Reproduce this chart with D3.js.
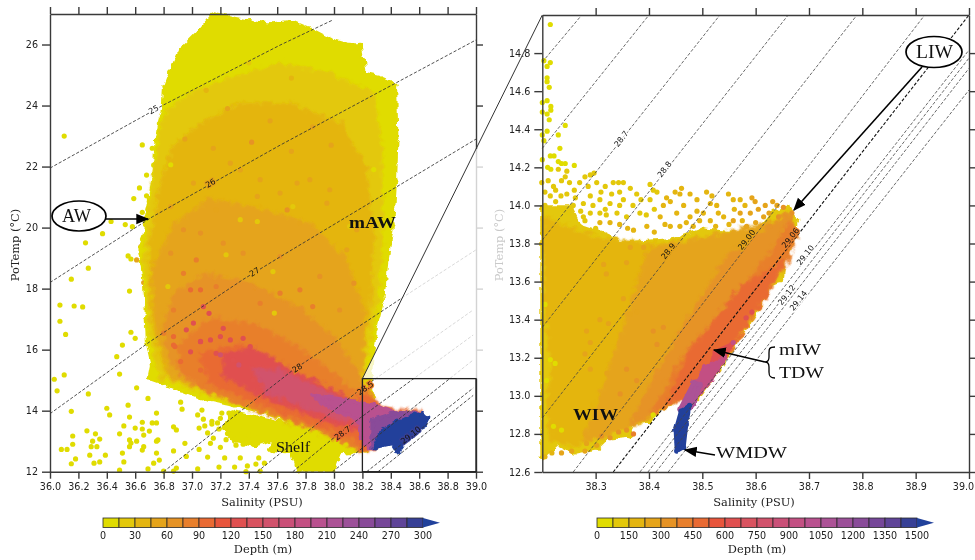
<!DOCTYPE html>
<html>
<head>
<meta charset="utf-8">
<script src="https://cdn.jsdelivr.net/npm/d3@7"></script>
<style>
  html, body { margin: 0; background: #fff; }
  svg { display: block; filter: blur(0.35px); }
  .tick text { font: 9.6px "DejaVu Sans", sans-serif; fill: #222; }
  .title { font: 11.4px "DejaVu Serif", serif; fill: #222; }
  .note { font-family: "Liberation Serif", serif; fill: #111; }
</style>
</head>
<body>
<svg id="chart" width="975" height="560"></svg>
<script>
/* ── Data ──────────────────────────────────────────────────────────── */

const depthColors = ['#e0dc00', '#e3c80a', '#e4b510', '#e5a41a', '#e69325', '#e87f2c', '#e96a33',
  '#e8553c', '#e05050', '#d95360', '#d1526c', '#ca5078', '#c35083', '#b9518f', '#ac5296',
  '#9c5099', '#894b99', '#764799', '#5f4498', '#374096'];
const overColor = '#21419b';

const depthTicksLeft = [0, 30, 60, 90, 120, 150, 180, 210, 240, 270, 300];
const depthTicksRight = [0, 150, 300, 450, 600, 750, 900, 1050, 1200, 1350, 1500];
const salTicksLeft = [36, 36.2, 36.4, 36.6, 36.8, 37, 37.2, 37.4, 37.6, 37.8, 38, 38.2, 38.4, 38.6, 38.8, 39];
const tempTicksLeft = [12, 14, 16, 18, 20, 22, 24, 26];
const salTicksRight = [38.3, 38.4, 38.5, 38.6, 38.7, 38.8, 38.9, 39];
const tempTicksRight = [12.6, 12.8, 13, 13.2, 13.4, 13.6, 13.8, 14, 14.2, 14.4, 14.6, 14.8];

// density contours, [salinity, temperature] along each line
const isoLeft = [
  [[36, 21.95], [36.8, 24.02], [37.62, 25.98], [37.99, 26.8]],
  [[36, 18.2], [36.72, 20.35], [37.62, 22.7], [39, 26.15]],
  [[36, 13.9], [36.7, 16.25], [37.36, 18.3], [37.62, 19.04], [39, 22.9]],
  [[36.8, 12], [37.62, 15], [37.71, 15.33], [38.49, 17.73], [39, 19.27]],
  [[37.46, 12], [38.18, 14.68], [38.98, 17.3]],
  [[37.71, 12], [38.04, 13.27], [38.98, 16.48]],
  [[37.99, 12], [38.98, 15.66]],
  [[38.23, 12], [38.98, 14.74]],
  [[38.31, 12], [38.98, 14.5]]
];
const isoRight = [
  [[38.2, 14.753], [38.274, 15]],
  [[38.2, 14.3], [38.4, 15]],
  [[38.2, 13.818], [38.533, 15]],
  [[38.2, 13.36], [38.661, 15]],
  [[38.2, 12.884], [38.79, 15]],
  [[38.258, 12.6], [38.917, 15]],
  [[38.383, 12.6], [39, 14.816]],
  [[38.398, 12.6], [39, 14.774]],
  [[38.413, 12.6], [39, 14.72]],
  [[38.436, 12.6], [39, 14.606]]
];
const isoRightBold = [[[38.333, 12.6], [39, 15]]];

// label text, salinity, temperature, depth of the water behind it (null = blank paper)
const isoLabelsLeft = [
  ['25', 36.73, 23.87, null], ['26', 37.13, 21.46, 50], ['27', 37.44, 18.55, 50],
  ['28', 37.74, 15.4, 85], ['28.5', 38.22, 14.74, 85], ['28.7', 38.06, 13.27, 100],
  ['29.10', 38.54, 13.2, 290]
];
const isoLabelsRight = [
  ['28.7', 38.348, 14.35, null], ['28.8', 38.429, 14.19, null], ['28.9', 38.436, 13.76, 260],
  ['29.00', 38.583, 13.82, 260], ['29.06', 38.665, 13.83, 420], ['29.10', 38.693, 13.74, null],
  ['29.12', 38.658, 13.53, null], ['29.14', 38.68, 13.5, null]
];

// cloud outlines, shallow water first, [depth, polygon of [salinity, temperature]]
const shelfOutline = [[37.28, 13.96], [37.48, 13.76], [37.69, 13.53], [37.97, 13.1], [38.11, 12.65], [38.04, 12.65],
  [37.99, 12.05], [37.75, 12.03], [37.71, 12.65], [37.56, 12.71], [37.58, 13.1], [37.44, 12.88], [37.3, 13.04], [37.23, 13.43]];
const cloudLeft = [
  [7, [[37.15, 26.97], [37.06, 26.48], [36.92, 25.82], [36.85, 25.1], [36.81, 24.6], [36.8, 23.95], [36.77, 23.43], [36.75, 22.87],
    [36.74, 22], [36.73, 21.55], [36.7, 20.9], [36.68, 20.35], [36.67, 19.8], [36.63, 19.35], [36.65, 18.85], [36.68, 17.63],
    [36.68, 17.08], [36.69, 16.2], [36.72, 15.55], [36.7, 15.07], [36.8, 14.9], [36.92, 14.68], [37.06, 14.42], [37.29, 14.19],
    [37.48, 14], [37.76, 13.53], [37.97, 13.03], [38.09, 12.65], [38.22, 12.71], [38.29, 13.85], [38.27, 14.45], [38.25, 15],
    [38.27, 15.99], [38.29, 16.65], [38.34, 17.63], [38.37, 18.94], [38.41, 20.09], [38.43, 21.56], [38.44, 22.88], [38.43, 24.68],
    [38.32, 24.9], [38.22, 25], [38.2, 25.5], [38.18, 25.97], [38.08, 26], [37.97, 26.15], [37.83, 26.48], [37.69, 26.75],
    [37.55, 26.65], [37.41, 26.75], [37.27, 26.87]]],
  [20, [[36.74, 21.73], [36.81, 23.7], [36.99, 24.35], [37.27, 24.85], [37.62, 25.33], [37.97, 25], [38.27, 24.35], [38.33, 22.55],
    [38.33, 19.6], [38.3, 17.63], [38.24, 16.32], [38.22, 15.07], [38.15, 13.2], [37.76, 13.7], [37.27, 14.3], [36.78, 15.1],
    [36.71, 16.5], [36.67, 18.94], [36.7, 20.42]]],
  [35, [[36.78, 21.24], [36.86, 22.55], [37.06, 23.37], [37.34, 24.02], [37.69, 24.02], [38.04, 23.37], [38.22, 21.9], [38.27, 19.6],
    [38.25, 17.63], [38.2, 15.99], [38.15, 13.6], [37.76, 13.75], [37.27, 14.4], [36.82, 15.2], [36.73, 16.97], [36.71, 19.27]]],
  [50, [[36.73, 18.61], [36.88, 20.09], [37.13, 20.9], [37.48, 20.57], [37.83, 20.09], [38.08, 18.94], [38.2, 17.3], [38.2, 15.66],
    [38.15, 13.8], [37.76, 13.8], [37.27, 14.4], [36.85, 15.2], [36.76, 16.65]]],
  [65, [[36.81, 16.81], [36.88, 17.79], [37.09, 18.45], [37.41, 18.12], [37.76, 17.3], [38, 16.32], [38.17, 15.17], [38.18, 14.19],
    [37.97, 13.53], [37.76, 13.76], [37.34, 14.35], [36.99, 15], [36.85, 15.6]]],
  [85, [[36.92, 16.15], [37.13, 16.97], [37.44, 16.81], [37.76, 15.99], [38.04, 15], [38.2, 14.35], [38.22, 13.37], [38.15, 12.81],
    [37.9, 13.37], [37.48, 14.02], [37.09, 14.74], [36.92, 15.33]]],
  [100, [[37.06, 15.83], [37.34, 16.15], [37.62, 15.5], [37.97, 14.58], [38.22, 13.96], [38.2, 13.04], [37.9, 13.53], [37.48, 14.25], [37.13, 14.94]]],
  [100, [[38.18, 14.51], [38.25, 14.51], [38.32, 14.09], [38.46, 13.96], [38.6, 13.96], [38.43, 13.53], [38.29, 12.81], [38.18, 12.71]]],
  [125, [[37.23, 15.83], [37.44, 15.99], [37.69, 15.33], [38.04, 14.51], [38.24, 13.96], [38.22, 13.3], [37.9, 13.76], [37.48, 14.51], [37.23, 15.17]]],
  [160, [[37.44, 15.33], [37.62, 15.27], [37.9, 14.68], [38.25, 13.96], [38.27, 13.53], [38.2, 13.53], [37.9, 13.96], [37.55, 14.61]]],
  [205, [[37.85, 14.51], [38.08, 14.35], [38.27, 14.18], [38.43, 13.93], [38.29, 13.17], [38.24, 12.81], [38.2, 13.04], [38.17, 13.7], [37.97, 14.09]]],
  [240, [[38.27, 13.7], [38.43, 13.93], [38.62, 13.9], [38.5, 13.5], [38.36, 13.04], [38.27, 12.81]]],
  [310, [[38.33, 13.3], [38.46, 13.66], [38.62, 13.9], [38.66, 13.77], [38.62, 13.47], [38.51, 13.04], [38.45, 12.65], [38.41, 12.94], [38.29, 12.81]]]
];
const cloudRight = [
  [100, [[38.2, 13.99], [38.252, 13.99], [38.27, 13.89], [38.308, 13.855], [38.35, 13.8], [38.452, 13.82], [38.5, 13.87], [38.552, 13.855],
    [38.602, 13.855], [38.632, 13.96], [38.659, 13.99], [38.677, 13.92], [38.674, 13.855], [38.664, 13.77], [38.651, 13.7], [38.647, 13.61],
    [38.63, 13.59], [38.614, 13.52], [38.6, 13.435], [38.586, 13.38], [38.561, 13.28], [38.552, 13.24], [38.533, 13.15], [38.514, 13.08],
    [38.49, 12.99], [38.477, 13.02], [38.439, 12.96], [38.415, 12.915], [38.402, 12.87], [38.37, 12.86], [38.364, 12.79], [38.321, 12.78],
    [38.303, 12.73], [38.258, 12.705], [38.228, 12.75], [38.2, 12.68]]],
  [190, [[38.205, 13.93], [38.267, 13.86], [38.308, 13.82], [38.42, 13.79], [38.533, 13.83], [38.636, 13.9], [38.608, 13.56], [38.496, 13.08],
    [38.383, 12.88], [38.308, 12.81], [38.261, 12.74], [38.218, 12.77], [38.212, 12.98], [38.22, 13.14], [38.206, 13.5]]],
  [260, [[38.402, 13.77], [38.496, 13.82], [38.636, 13.91], [38.664, 13.95], [38.664, 13.82], [38.627, 13.61], [38.533, 13.21], [38.477, 13.03],
    [38.383, 12.87], [38.317, 12.79], [38.28, 12.77], [38.308, 12.98], [38.346, 13.29], [38.383, 13.61]]],
  [340, [[38.552, 13.74], [38.636, 13.9], [38.664, 13.95], [38.673, 13.84], [38.636, 13.63], [38.561, 13.32], [38.496, 13.06], [38.41, 12.92],
    [38.37, 12.86], [38.42, 13.14], [38.476, 13.4]]],
  [420, [[38.636, 13.77], [38.664, 13.91], [38.674, 13.84], [38.66, 13.72], [38.627, 13.58], [38.561, 13.29], [38.505, 13.11], [38.477, 13.02],
    [38.41, 12.92], [38.458, 13.16], [38.533, 13.4], [38.589, 13.61]]],
  [480, [[38.627, 13.65], [38.65, 13.7], [38.617, 13.53], [38.561, 13.29], [38.518, 13.12], [38.486, 13], [38.439, 12.97], [38.477, 13.24], [38.533, 13.42], [38.58, 13.58]]],
  [640, [[38.524, 13.23], [38.555, 13.27], [38.537, 13.18], [38.507, 13.08]]],
  [900, [[38.505, 13.15], [38.542, 13.2], [38.518, 13.09], [38.486, 12.99], [38.477, 13.02]]],
  [1100, [[38.484, 13.07], [38.496, 13.06], [38.485, 12.96], [38.47, 12.91], [38.458, 12.93]]],
  [1550, [[38.46, 12.92], [38.476, 12.95], [38.47, 12.85], [38.465, 12.73], [38.452, 12.71], [38.45, 12.82]]]
];

// single profiles, [salinity, temperature, depth]
const pointsLeftYellow = [[36.1, 23], [36.65, 22.71], [36.72, 22.6], [36.75, 22.48], [36.68, 21.72], [36.73, 22.05], [36.63, 21.3], [36.68, 21.04],
  [36.72, 21.13], [36.59, 20.95], [36.65, 20.5], [36.69, 20.6], [36.43, 20.2], [36.53, 20.1], [36.58, 20.03], [36.37, 19.8], [36.25, 19.5],
  [36.55, 19.07], [36.57, 18.97], [36.27, 18.67], [36.15, 18.31], [36.56, 17.92], [36.07, 17.46], [36.17, 17.43], [36.23, 17.4], [36.07, 16.93],
  [36.11, 16.5], [36.57, 16.57], [36.6, 16.37], [36.51, 16.15], [36.47, 15.77], [36.49, 15.2], [36.03, 15.03], [36.1, 15.17], [36.05, 14.65],
  [36.27, 14.55], [36.61, 14.75], [36.69, 14.4], [36.15, 13.98], [36.4, 14.08], [36.42, 13.86], [36.55, 14.18], [36.56, 13.79], [36.75, 13.92],
  [36.52, 13.5], [36.6, 13.43], [36.65, 13.62], [36.65, 13.4], [36.72, 13.6], [36.75, 13.6], [36.7, 13.33], [36.66, 13.2], [36.49, 13.24],
  [36.26, 13.34], [36.32, 13.24], [36.35, 13.07], [36.16, 13.17], [36.3, 13], [36.16, 12.9], [36.08, 12.73], [36.12, 12.73], [36.29, 12.82],
  [36.33, 12.82], [36.28, 12.54], [36.39, 12.54], [36.18, 12.42], [36.15, 12.26], [36.31, 12.28], [36.35, 12.32], [36.51, 12.61], [36.52, 12.32],
  [36.49, 12.05], [36.61, 13], [36.56, 13.04], [36.57, 12.94], [36.56, 12.82], [36.66, 12.82], [36.65, 12.71], [36.75, 13], [36.76, 13.04],
  [36.75, 12.61], [36.77, 12.38], [36.73, 12.28], [36.69, 12.09], [36.8, 12.02], [36.87, 12.68], [36.87, 13.47], [36.89, 13.37], [36.95, 12.93],
  [36.96, 12.5], [36.89, 12.12], [36.87, 12.02], [37.04, 12.09], [37.05, 12.73], [37.11, 12.48], [37.19, 12.15], [37.23, 12.45], [37.3, 12.15],
  [37.34, 12.45], [37.39, 12.19], [37.38, 12], [37.45, 12.25], [37.47, 12.45], [37.48, 12.02], [37.51, 12.28], [37.2, 12.8], [37.13, 12.93],
  [37.31, 12.87], [37.11, 13.27], [37.07, 14.02], [37.04, 13.86], [36.92, 14.28], [36.93, 14.05], [37.05, 13.43], [37.09, 13.5], [37.14, 13.56],
  [37.19, 13.4], [37.21, 13.92], [37.26, 13.92], [37.28, 13.8], [37.15, 13.1], [37.24, 13.05], [37.3, 13.28], [37.36, 12.9], [37.4, 13.2], [37.5, 13.25],
  [37.32, 13.7], [37.2, 13.75], [37.14, 13.65], [37.08, 13.72], [37.38, 13.6], [37.35, 13.35], [37.5, 13.45], [37.55, 13.3], [37.62, 13.35],
  [37.45, 13.1], [37.52, 13.05], [37.28, 13.55], [37.18, 13.6], [37.25, 13.25], [37.6, 12.9], [37.66, 12.8]];
const pointsLeftOrange = [[36.65, 19.4], [36.64, 19.38], [36.61, 18.94], [36.68, 18.6], [36.66, 18.2], [36.72, 17.8], [36.71, 17.1]];
const speckleLeft = [
  [37.01, 21.46, 50], [37.27, 22.11, 50], [37.34, 21.89, 50], [37.48, 21.57, 50], [37.62, 21.13, 50], [37.74, 21.46, 50], [37.83, 21.57, 50],
  [37.67, 20.58, 65], [37.76, 20.15, 50], [37.95, 20.8, 50], [36.94, 19.93, 65], [37.06, 19.82, 65], [37.22, 19.49, 65], [37.36, 19.16, 65],
  [37.62, 19.05, 65], [37.9, 18.4, 65], [38.09, 19.27, 50], [38.14, 18.18, 65], [37.76, 17.96, 85], [37.62, 17.85, 85], [37.03, 18.94, 85],
  [36.94, 18.5, 85], [37.06, 17.96, 100], [36.85, 19.16, 65], [37.17, 18.07, 85], [37.48, 17.52, 85], [37.85, 17.41, 85], [38.04, 17.3, 65],
  [36.87, 17.3, 85], [36.99, 17.96, 100], [37.97, 21.24, 50], [37.46, 21.02, 50], [37.17, 20.58, 50], [36.85, 20.69, 50], [38.16, 19.93, 50],
  [36.85, 22.06, 7], [37.34, 20.26, 20], [37.46, 20.2, 20], [37.57, 18.56, 20], [37.58, 17.2, 20], [37.71, 20.69, 20], [37.24, 19.11, 20],
  [36.83, 18.07, 20], [38.11, 20.04, 20], [38.28, 21.9, 7], [37.1, 24.5, 35], [37.4, 25.4, 20], [37.7, 24.9, 35], [37.25, 23.9, 50],
  [37.55, 23.5, 50], [37.85, 23.3, 50], [37.98, 22.7, 50], [36.95, 22.9, 50], [37.15, 22.6, 50], [37.42, 22.8, 65], [37.7, 22.5, 50],
  [37.12, 17.19, 125], [37.08, 17.41, 125], [37.01, 16.87, 125], [36.96, 16.65, 125], [36.87, 16.43, 100], [37.06, 16.27, 125], [37.13, 16.32, 125],
  [37.22, 16.7, 125], [37.27, 16.32, 125], [37.36, 16.37, 125], [37.41, 16.1, 125], [36.88, 16.1, 100], [37.06, 16.26, 125], [36.99, 15.93, 125],
  [37.17, 15.88, 125], [37.29, 15.66, 125], [37.06, 15.33, 100], [36.87, 16.15, 100], [36.8, 16.54, 85], [37.24, 14.79, 100], [37.1, 14.79, 85],
  [37.43, 15, 125], [37.2, 16.43, 125], [36.92, 15.61, 100], [37.48, 15, 160], [37.53, 14.57, 160], [37.2, 15.83, 160], [37.33, 15.5, 160]];

const pointsRightYellow = [[38.215, 14.95], [38.203, 14.76], [38.215, 14.75], [38.209, 14.73], [38.209, 14.67], [38.209, 14.65], [38.213, 14.62],
  [38.2, 14.54], [38.209, 14.55], [38.216, 14.52], [38.2, 14.49], [38.209, 14.48], [38.216, 14.5], [38.213, 14.45], [38.243, 14.42], [38.2, 14.37],
  [38.209, 14.39], [38.23, 14.37], [38.203, 14.34], [38.233, 14.3], [38.215, 14.26], [38.222, 14.26], [38.2, 14.24], [38.23, 14.23], [38.236, 14.22],
  [38.26, 14.21], [38.21, 14.2], [38.243, 14.22], [38.216, 14.19]];
const speckleRight = [
  [38.199, 14.12, 100], [38.211, 14.13, 100], [38.221, 14.1, 100], [38.205, 14.07, 100], [38.23, 14.19, 100], [38.246, 14.18, 100], [38.243, 14.15, 100],
  [38.236, 14.13, 100], [38.251, 14.12, 100], [38.27, 14.12, 100], [38.28, 14.15, 100], [38.29, 14.16, 100], [38.297, 14.17, 100], [38.286, 14.1, 100],
  [38.302, 14.12, 100], [38.318, 14.1, 100], [38.333, 14.12, 100], [38.343, 14.12, 100], [38.352, 14.12, 100], [38.365, 14.09, 100], [38.377, 14.06, 100],
  [38.402, 14.11, 100], [38.408, 14.08, 100], [38.415, 14.07, 100], [38.461, 14.09, 190], [38.458, 14.06, 190], [38.449, 14.07, 190], [38.477, 14.06, 190],
  [38.433, 14.04, 190], [38.508, 14.07, 190], [38.518, 14.05, 190], [38.549, 14.06, 190], [38.29, 14.05, 100], [38.308, 14.03, 100], [38.277, 14.01, 100],
  [38.258, 14, 100], [38.246, 14.06, 100], [38.352, 14.03, 100], [38.327, 14.01, 100], [38.308, 13.96, 100], [38.29, 13.96, 100], [38.277, 13.94, 100],
  [38.34, 13.96, 100], [38.358, 13.94, 100], [38.383, 13.96, 100], [38.402, 14.03, 100], [38.427, 14, 190], [38.452, 13.96, 190], [38.477, 13.94, 190],
  [38.49, 14.03, 190], [38.527, 14, 190], [38.54, 13.94, 190], [38.502, 13.96, 190], [38.396, 13.89, 190], [38.421, 13.94, 190], [38.44, 13.89, 190],
  [38.371, 13.87, 190], [38.327, 13.91, 190], [38.308, 13.91, 190], [38.458, 13.89, 190], [38.483, 13.89, 190], [38.515, 13.92, 190],
  [38.558, 14.03, 190], [38.571, 14.03, 190], [38.593, 14.04, 260], [38.599, 14.02, 260], [38.618, 14, 260], [38.632, 14.02, 260], [38.652, 13.99, 340],
  [38.668, 13.96, 340], [38.615, 13.94, 260], [38.59, 13.96, 260], [38.571, 13.96, 260], [38.643, 13.94, 340], [38.583, 13.89, 260], [38.627, 13.89, 340],
  [38.558, 13.92, 260], [38.225, 14.02, 100], [38.238, 13.98, 100], [38.262, 14.04, 100], [38.272, 13.97, 100], [38.295, 14, 100], [38.318, 13.98, 100],
  [38.33, 14.06, 100], [38.345, 14, 100], [38.37, 14, 100], [38.385, 14.03, 100], [38.395, 13.95, 100], [38.41, 13.98, 100], [38.44, 14.02, 190],
  [38.465, 14, 190], [38.49, 13.97, 190], [38.515, 14.01, 190], [38.53, 13.96, 190], [38.56, 13.98, 190], [38.58, 14, 190], [38.605, 13.98, 260],
  [38.625, 13.96, 260], [38.64, 14, 260], [38.345, 13.9, 190], [38.36, 13.88, 190], [38.41, 13.86, 190], [38.43, 13.9, 190], [38.47, 13.91, 190],
  [38.495, 13.92, 190], [38.525, 13.89, 190], [38.55, 13.9, 190], [38.575, 13.92, 190], [38.6, 13.91, 260], [38.61, 13.87, 260], [38.65, 13.87, 340],
  [38.28, 13.92, 100], [38.3, 13.88, 100], [38.32, 13.95, 100], [38.25, 13.96, 100], [38.235, 14.05, 100], [38.215, 14.05, 100], [38.205, 14, 100],
  [38.225, 14.08, 100], [38.26, 14.08, 100], [38.31, 14.07, 100], [38.345, 14.07, 100],
  [38.283, 13.34, 260], [38.29, 13.28, 260], [38.28, 13.22, 260], [38.308, 13.4, 260], [38.324, 13.38, 260], [38.352, 13.51, 260],
  [38.365, 13.43, 260], [38.377, 13.44, 260], [38.408, 13.34, 340], [38.415, 13.27, 340], [38.427, 13.36, 340], [38.29, 13.14, 260], [38.321, 13.12, 260],
  [38.358, 13.14, 340], [38.377, 13.08, 340], [38.346, 13.01, 340], [38.365, 13.78, 260], [38.39, 13.78, 260], [38.315, 13.69, 260], [38.32, 13.64, 260],
  [38.358, 13.7, 260], [38.377, 12.88, 340], [38.371, 12.8, 420], [38.358, 12.82, 340], [38.343, 12.81, 340], [38.327, 12.78, 340], [38.311, 12.79, 340],
  [38.302, 12.74, 260], [38.283, 12.75, 260], [38.28, 12.71, 260], [38.255, 12.71, 260], [38.236, 12.7, 260], [38.218, 12.7, 190], [38.205, 12.68, 190],
  [38.408, 12.9, 50], [38.221, 12.84, 50], [38.236, 12.82, 50], [38.208, 13.08, 50], [38.205, 13.48, 50], [38.215, 13.19, 50], [38.224, 13.17, 50],
  [38.582, 13.41, 640], [38.593, 13.44, 640], [38.558, 13.28, 900]];

/* ── Scales ────────────────────────────────────────────────────────── */

const svg = d3.select('#chart');
const xL = d3.scaleLinear().domain([36, 39]).range([50, 476]);
const yL = d3.scaleLinear().domain([12, 27]).range([471.7, 14]);
const xR = d3.scaleLinear().domain([38.2, 39]).range([542.3, 969]);
const yR = d3.scaleLinear().domain([12.6, 15]).range([472, 15]);

// values past the end of the bar take the colour of its triangle
function depthScale(max) {
  const q = d3.scaleQuantize().domain([0, max]).range(depthColors);
  return d => d > max ? overColor : q(d);
}
const colorLeft = depthScale(300);
const colorRight = depthScale(1500);

const defs = svg.append('defs');
defs.append('marker').attr('id', 'head').attr('viewBox', '0 0 10 10').attr('refX', 9).attr('refY', 5)
  .attr('markerUnits', 'userSpaceOnUse').attr('markerWidth', 13).attr('markerHeight', 13).attr('orient', 'auto')
  .append('path').attr('d', 'M0,1 L10,5 L0,9 Z').attr('fill', '#000');

// paper-grain filters: they fray the edges of the cloud layers so they read as packed dots
function grainFilter(id, blur, scale) {
  const f = defs.append('filter').attr('id', id).attr('filterUnits', 'userSpaceOnUse')
    .attr('x', 0).attr('y', 0).attr('width', 975).attr('height', 560);
  f.append('feGaussianBlur').attr('in', 'SourceGraphic').attr('stdDeviation', blur).attr('result', 'soft');
  f.append('feTurbulence').attr('type', 'fractalNoise').attr('baseFrequency', 0.17)
    .attr('numOctaves', 1).attr('seed', 4).attr('result', 'noise');
  f.append('feDisplacementMap').attr('in', 'soft').attr('in2', 'noise').attr('scale', scale)
    .attr('xChannelSelector', 'R').attr('yChannelSelector', 'G');
}
grainFilter('fine', 0.3, 2.5);
grainFilter('rough', 0, 7);
grainFilter('soft', 1.8, 11);

/* ── Cloud and contours ────────────────────────────────────────────── */

function drawDots(g, pts, x, y, fill) {
  g.append('g').selectAll('circle').data(pts).join('circle')
    .attr('cx', d => x(d[0])).attr('cy', d => y(d[1])).attr('r', 2.6)
    .attr('fill', d => fill(d));
}

function drawCloud(g, layers, x, y, color) {
  layers.forEach(([depth, poly], i) => {
    const c = color(depth);
    const pix = poly.map(p => [x(p[0]), y(p[1])]);
    const area = Math.abs(d3.polygonArea(pix));
    const grain = area < 400 ? 'fine' : (i > 0 && area > 1500 ? 'soft' : 'rough');
    const layer = g.append('g').attr('filter', 'url(#' + grain + ')');
    layer.append('polygon')
      .attr('points', pix.map(p => p.join(',')).join(' '))
      .attr('fill', c).attr('stroke', c).attr('stroke-width', 4).attr('stroke-linejoin', 'round');
    drawDots(layer, poly, x, y, () => c);
  });
}

function drawLines(g, lines, x, y, width, stroke) {
  const line = d3.line().x(d => x(d[0])).y(d => y(d[1]));
  g.append('g').selectAll('path').data(lines).join('path')
    .attr('d', line).attr('fill', 'none').attr('stroke', stroke)
    .attr('stroke-width', width).attr('stroke-dasharray', '3.2,1.8');
}

// label angle comes from the contour that passes closest to the label
function drawIsoLabels(g, labels, lines, x, y, color) {
  labels.forEach(([txt, s, t, depth]) => {
    let best = null, bestD = Infinity;
    lines.forEach(ln => d3.pairs(ln).forEach(([a, b]) => {
      const ax = x(a[0]), ay = y(a[1]), bx = x(b[0]), by = y(b[1]), px = x(s), py = y(t);
      const u = Math.max(0, Math.min(1, ((px - ax) * (bx - ax) + (py - ay) * (by - ay)) / ((bx - ax) ** 2 + (by - ay) ** 2)));
      const dd = Math.hypot(px - ax - u * (bx - ax), py - ay - u * (by - ay));
      if (dd < bestD) { bestD = dd; best = Math.atan2(by - ay, bx - ax) * 180 / Math.PI; }
    }));
    g.append('text')
      .attr('transform', 'translate(' + x(s) + ',' + y(t) + ') rotate(' + best + ')')
      .attr('text-anchor', 'middle').attr('dy', '0.35em')
      .style('font', '8px "DejaVu Sans", sans-serif').style('fill', '#111')
      .style('paint-order', 'stroke').attr('stroke', depth === null ? '#fff' : color(depth)).attr('stroke-width', 2.6)
      .text(txt);
  });
}

const left = svg.append('g');
drawCloud(left, [[7, shelfOutline]], xL, yL, colorLeft);
drawDots(left, pointsLeftYellow, xL, yL, () => depthColors[0]);
drawDots(left, pointsLeftOrange, xL, yL, () => depthColors[3]);
drawCloud(left, cloudLeft, xL, yL, colorLeft);
drawDots(left, speckleLeft, xL, yL, d => colorLeft(d[2]));
drawLines(left, isoLeft, xL, yL, 0.85, '#333');
drawIsoLabels(left, isoLabelsLeft, isoLeft, xL, yL, colorLeft);

const right = svg.append('g');
drawDots(right, pointsRightYellow, xR, yR, () => depthColors[0]);
drawCloud(right, cloudRight, xR, yR, colorRight);
drawDots(right, speckleRight, xR, yR, d => colorRight(d[2]));
drawLines(right, isoRight, xR, yR, 0.8, '#444');
drawLines(right, isoRightBold, xR, yR, 1.1, '#111');
drawIsoLabels(right, isoLabelsRight, isoRight.concat(isoRightBold), xR, yR, colorRight);

/* ── Axes ──────────────────────────────────────────────────────────── */

function styleAxis(sel) {
  sel.selectAll('path, line').attr('stroke', '#3a3a3a').attr('stroke-width', 1.4);
}

function drawAxes(x, y, salTicks, tempTicks, salFmt, tempFmt) {
  const h = y.range()[0], t = y.range()[1], l = x.range()[0], r = x.range()[1];
  const bottom = svg.append('g').attr('transform', 'translate(0,' + h + ')')
    .call(d3.axisBottom(x).tickValues(salTicks).tickSize(7).tickPadding(4).tickSizeOuter(0).tickFormat(salFmt)).call(styleAxis);
  svg.append('g').attr('transform', 'translate(0,' + t + ')')
    .call(d3.axisTop(x).tickValues(salTicks).tickSize(7).tickSizeOuter(0).tickFormat('')).call(styleAxis);
  svg.append('g').attr('transform', 'translate(' + l + ',0)')
    .call(d3.axisLeft(y).tickValues(tempTicks).tickSize(8).tickPadding(4).tickSizeOuter(0).tickFormat(tempFmt)).call(styleAxis);
  svg.append('g').attr('transform', 'translate(' + r + ',0)')
    .call(d3.axisRight(y).tickValues(tempTicks).tickSize(7).tickSizeOuter(0).tickFormat('')).call(styleAxis);
  return bottom;
}

drawAxes(xL, yL, salTicksLeft, tempTicksLeft, d3.format('.1f'), d3.format('d'));

// everything behind the zoom wedge is washed out
const wedge = [[xL(38.2), yL(15.05)], [xL(39), 149], [511, 149], [511, yL(15.05)]];
svg.append('polygon').attr('points', wedge.map(p => p.join(',')).join(' ')).attr('fill', '#fff').attr('opacity', 0.78);

// last label of the zoom panel would run off the page
drawAxes(xR, yR, salTicksRight, tempTicksRight, d3.format('.1f'), d3.format('.1f'))
  .selectAll('.tick text').filter(d => d === 39).attr('dx', -6);

// zoom box and its guide to the second panel
svg.append('rect').attr('x', xL(38.2)).attr('y', yL(15.05)).attr('width', xL(39) - xL(38.2)).attr('height', yL(12) - yL(15.05))
  .attr('fill', 'none').attr('stroke', '#222').attr('stroke-width', 1.3);
svg.append('line').attr('x1', xL(38.2)).attr('y1', yL(15.05)).attr('x2', xR(38.2)).attr('y2', yR(15))
  .attr('stroke', '#333').attr('stroke-width', 1);

/* ── Titles ────────────────────────────────────────────────────────── */

function title(txt, cx, cy, rot, fill) {
  svg.append('text').attr('class', 'title').attr('text-anchor', 'middle')
    .attr('transform', 'translate(' + cx + ',' + cy + ') rotate(' + rot + ')')
    .style('fill', fill || '#222').text(txt);
}
title('Salinity (PSU)', 262, 506, 0);
title('Salinity (PSU)', 754, 506, 0);
title('PoTemp (°C)', 19, 245, -90);
title('PoTemp (°C)', 503, 245, -90, '#c9c9c9');
title('Depth (m)', 263, 553, 0);
title('Depth (m)', 757, 553, 0);

/* ── Colour bars ───────────────────────────────────────────────────── */

function drawBar(ticks, max, x0) {
  const sx = d3.scaleLinear().domain([0, max]).range([x0, x0 + 320]);
  const step = max / depthColors.length;
  const g = svg.append('g');
  g.selectAll('rect').data(depthColors).join('rect')
    .attr('x', (d, i) => sx(i * step)).attr('y', 518).attr('width', sx(step) - sx(0)).attr('height', 9.5)
    .attr('fill', d => d).attr('stroke', '#2a2a2a').attr('stroke-width', 0.8);
  g.append('polygon')
    .attr('points', [[sx(max), 518], [sx(max) + 17, 522.7], [sx(max), 527.5]].map(p => p.join(',')).join(' '))
    .attr('fill', overColor);
  g.selectAll('text').data(ticks).join('text')
    .attr('x', d => sx(d)).attr('y', 539).attr('text-anchor', 'middle')
    .style('font', '9.6px "DejaVu Sans", sans-serif').style('fill', '#222').text(d => d);
}
drawBar(depthTicksLeft, 300, 103);
drawBar(depthTicksRight, 1500, 597);

/* ── Annotations ───────────────────────────────────────────────────── */

function note(txt, x, y, size, len, weight) {
  svg.append('text').attr('class', 'note').attr('x', x).attr('y', y)
    .attr('textLength', len).attr('lengthAdjust', 'spacingAndGlyphs')
    .style('font-size', size + 'px').style('font-weight', weight || 'normal').text(txt);
}
function bubble(cx, cy, rx, ry) {
  svg.append('ellipse').attr('cx', cx).attr('cy', cy).attr('rx', rx).attr('ry', ry)
    .attr('fill', '#fff').attr('stroke', '#000').attr('stroke-width', 1.7);
}
function arrow(x1, y1, x2, y2) {
  svg.append('line').attr('x1', x1).attr('y1', y1).attr('x2', x2).attr('y2', y2)
    .attr('stroke', '#000').attr('stroke-width', 1.6).attr('marker-end', 'url(#head)');
}

bubble(79, 216, 27, 15);
note('AW', 62, 222, 18, 29);
arrow(106, 219, 148, 219);
note('mAW', 349, 228, 16, 47, 'bold');
note('Shelf', 276, 452, 15, 34);

bubble(934, 52, 28, 15.5);
note('LIW', 916, 58, 18, 37);
arrow(922, 67, 794, 210);
note('WIW', 573, 420, 17, 45, 'bold');
note('mIW', 779, 355, 16, 42);
note('TDW', 779, 378, 16, 45);
note('WMDW', 716, 458, 17, 71);
arrow(765, 362, 714, 350);
arrow(715, 455, 685, 450);
svg.append('path')
  .attr('d', 'M775,347 C769,347 769,349 769,353 L769,357 C769,360 768,362 765,362 C768,362 769,364 769,367 L769,372 C769,376 770,378 775,378')
  .attr('fill', 'none').attr('stroke', '#000').attr('stroke-width', 1.3);
</script>
</body>
</html>
